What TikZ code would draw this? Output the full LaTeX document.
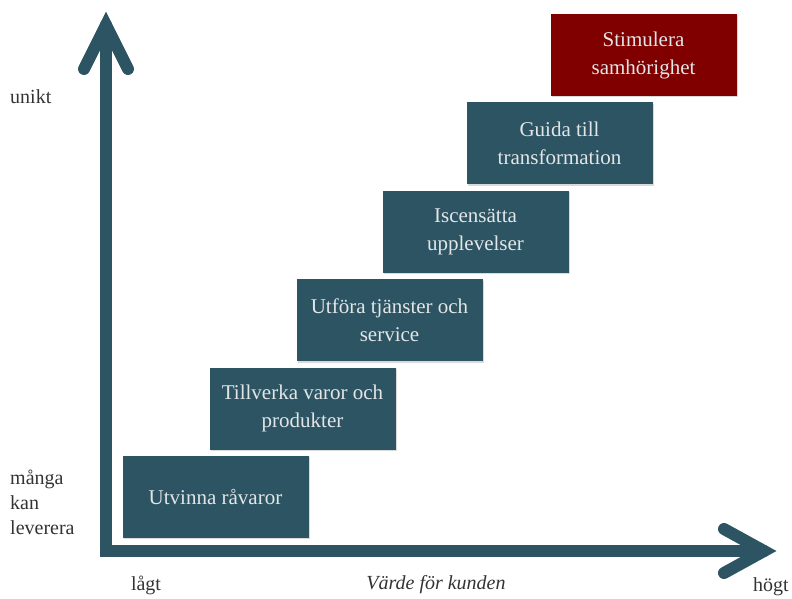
\documentclass[tikz,border=0pt]{standalone}
\usepackage{fontspec}
\setmainfont{Liberation Serif}
\usetikzlibrary{positioning,shadows}
\definecolor{stageColor}{RGB}{45,84,98}
\definecolor{topColor}{RGB}{128,0,0}
\definecolor{stageText}{RGB}{226,230,232}
\tikzset{stage/.style={fill=stageColor, text=stageText, align=center, minimum width=186pt, minimum height=82pt, font=\fontsize{21}{28}\selectfont, drop shadow={shadow xshift=1.5pt, shadow yshift=-1.5pt, opacity=0.3}}}
\tikzset{topstage/.style={stage, fill=topColor}}
\tikzset{axis/.style={draw=stageColor, line width=12pt, line cap=round, line join=miter}}
\tikzset{axislabel/.style={font=\fontsize{20}{25}\selectfont, text=black!80, align=left, inner sep=0pt}}

\begin{document}
\begin{tikzpicture}[x=1pt, y=1pt, node distance=6pt]
	\useasboundingbox (0,0) rectangle (792,599);

	% Axes
	\coordinate (origin) at (106,48);
	\coordinate (ytip) at (106,574);
	\coordinate (xtip) at (764,48);
	\draw[axis] (ytip) -- (origin) -- (xtip);
	\draw[axis] (ytip) ++(-22,-44) -- (ytip) -- ++(22,-44);
	\draw[axis] (xtip) ++(-40,22) -- (xtip) -- ++(-40,-22);

	% Nodes
	\node (utvinna) [stage] at (215.5,102) {Utvinna råvaror};
	\node (tillverka) [stage, above=of utvinna, xshift=87pt] {Tillverka varor och\\produkter};
	\node (utfora) [stage, above=of tillverka, xshift=87pt] {Utföra tjänster och\\service};
	\node (iscensatta) [stage, above=of utfora, xshift=86pt] {Iscensätta\\upplevelser};
	\node (guida) [stage, above=of iscensatta, xshift=84pt] {Guida till\\transformation};
	\node (stimulera) [topstage, above=of guida, xshift=84pt] {Stimulera\\samhörighet};

	% Labels
	\node (unikt) [axislabel, anchor=west] at (10,502) {unikt};
	\node (manga) [axislabel, anchor=west] at (10,97) {många\\kan\\leverera};
	\node (lagt) [axislabel] at (146,14) {lågt};
	\node (varde) [axislabel, font=\fontsize{20}{25}\selectfont\itshape] at (436,14) {Värde för kunden};
	\node (hogt) [axislabel] at (771,12) {högt};

\end{tikzpicture}
\end{document}
